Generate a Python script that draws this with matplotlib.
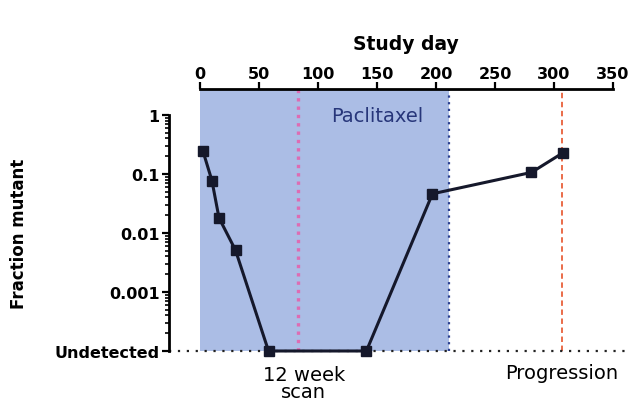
import matplotlib
matplotlib.use('Agg')
import matplotlib.pyplot as plt
from matplotlib.ticker import FixedLocator, FixedFormatter, NullFormatter

plt.rcParams['font.family'] = ['DejaVu Sans']

# Values
days = [2.5, 10, 16, 30, 58, 141, 197, 281, 308]
fraction = [0.24, 0.077, 0.018, 0.0051, 1e-4, 1e-4, 0.046, 0.106, 0.23]
undetected = 1e-4
xticks = [0, 50, 100, 150, 200, 250, 300, 350]
yticks = [1e-4, 1e-3, 1e-2, 1e-1, 1]
ylabels = ['Undetected', '0.001', '0.01', '0.1', '1']
paclitaxel_start, paclitaxel_end = 0, 211
scan_day = 83
progression_day = 307

fig = plt.figure(figsize=(6.31, 4.02), dpi=100)
ax = fig.add_axes([0.268, 0.1244, 0.727, 0.652])

ax.set_yscale('log')
ax.set_xlim(-26.3, 362.7)
ax.set_ylim(undetected, 10 ** 0.44)

# treatment window and event lines
ax.axvspan(paclitaxel_start, paclitaxel_end, color='#abbde5', zorder=0, lw=0)
ax.axvline(paclitaxel_end, color='#2a3f8f', ls=(0, (1, 2)), lw=1.6, zorder=1)
ax.axvline(scan_day, color='#de6cb3', ls=(0, (1, 1.5)), lw=2.4, zorder=1)
ax.axvline(progression_day, color='#e8603a', ls=(0, (3, 2)), lw=1.3, zorder=1)
ax.axhline(undetected, color='#222222', ls=(0, (1, 3)), lw=1.6, zorder=1,
           clip_on=False)

ax.plot(days, fraction, color='#15182b', lw=2.2, marker='s', ms=7,
        zorder=3, clip_on=False)

ax.text(150, 0.97, 'Paclitaxel', color='#27367a', fontsize=14,
        ha='center', va='center')

# spines
for s in ['right', 'bottom']:
    ax.spines[s].set_visible(False)
ax.spines['top'].set_bounds(0, 350)
ax.spines['left'].set_bounds(undetected, 1)
ax.spines['top'].set_linewidth(2)
ax.spines['left'].set_linewidth(2)

ax.xaxis.tick_top()
ax.set_xticks(xticks)
ax.tick_params(axis='x', which='major', length=5, width=1.6, pad=1,
               labelsize=11.5)
for lab in ax.get_xticklabels():
    lab.set_fontweight('bold')

minor = [m * 10.0 ** e for e in range(-4, 0) for m in range(2, 10)]
ax.yaxis.set_major_locator(FixedLocator(yticks))
ax.yaxis.set_major_formatter(FixedFormatter(ylabels))
ax.yaxis.set_minor_locator(FixedLocator(minor))
ax.yaxis.set_minor_formatter(NullFormatter())
ax.tick_params(axis='y', which='major', length=5, width=1.6, pad=2,
               labelsize=11.5)
ax.tick_params(axis='y', which='minor', length=3, width=1.2)
for lab in ax.get_yticklabels():
    lab.set_fontweight('bold')

ax.set_ylabel('Fraction mutant', fontsize=12, fontweight='bold')
ax.yaxis.set_label_coords(-0.308, 0.45)
fig.text(406 / 631, 1 - 45 / 402, 'Study day', fontsize=13.5,
         fontweight='bold', ha='center', va='center')

ax.text(88, 10 ** -4.54, '12 week\nscan', ha='center', va='center',
        fontsize=14, linespacing=0.85)
ax.text(progression_day, 10 ** -4.36, 'Progression', ha='center',
        va='center', fontsize=14)

fig.savefig('out.png', dpi=100)
